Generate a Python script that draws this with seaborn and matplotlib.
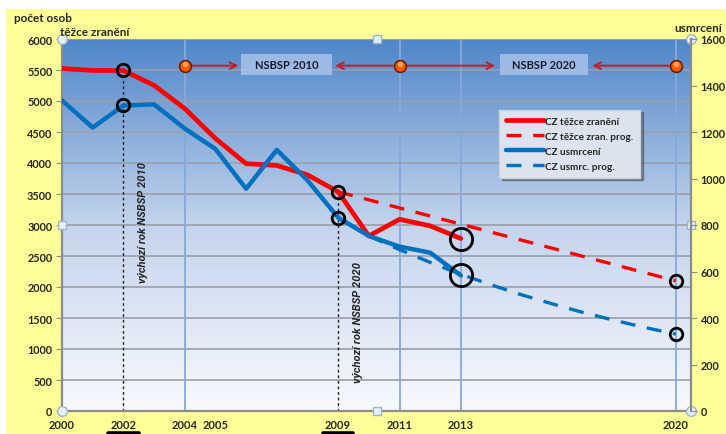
import matplotlib as mpl

mpl.use('Agg')
import numpy as np
import pandas as pd
import matplotlib.pyplot as plt
import matplotlib.transforms as mtransforms
from matplotlib.patches import Rectangle
from matplotlib.lines import Line2D
import seaborn as sns

sns.set_style('white')
plt.rcParams['font.family'] = ['Lato', 'DejaVu Sans']

#### data ####
years = list(range(2000, 2014))
injured = [5525, 5493, 5492, 5253, 4878, 4396, 3990, 3960, 3809, 3536,
           2823, 3092, 2986, 2782]
killed = [1336, 1219, 1314, 1319, 1215, 1127, 956, 1123, 992, 832,
          753, 707, 681, 583]
injured_prog_years = [2009, 2020]
injured_prog = [3536, 2100]
killed_prog_years = list(range(2010, 2021))
killed_prog = [753, 694, 639, 588, 542, 499, 460, 423, 390, 359, 331]

base_years = [2002, 2009]       # small circles + dashed verticals
check_year = 2013               # big circles
target_year = 2020
target_injured = 2100
target_killed = 331

label_years = [2000, 2002, 2004, 2005, 2009, 2011, 2013, 2020]
underlined_years = [2002, 2009]
vgrid_years = [2004, 2011, 2013, 2020]
milestone_years = [2004, 2011, 2020]
strategies = ['NSBSP 2010', 'NSBSP 2020']
########################

RED = '#FF0000'
BLUE = '#0070C0'
YELLOW = '#FFFF99'

df = pd.DataFrame({'rok': years, 'zraneni': injured, 'usmrceni': killed})
df_ip = pd.DataFrame({'rok': injured_prog_years, 'v': injured_prog})
df_kp = pd.DataFrame({'rok': killed_prog_years, 'v': killed_prog})

fig = plt.figure(figsize=(7.26, 4.35), dpi=100)
fig.patch.set_facecolor('white')
fig.patches.append(Rectangle((6 / 726, 0), 1, 1 - 10 / 435, transform=fig.transFigure,
                             facecolor=YELLOW, edgecolor='none', zorder=-10))

ax = fig.add_axes([62 / 726, 1 - 412 / 435, 629 / 726, 372 / 435])
ax2 = ax.twinx()
ax.set_xlim(2000, 2020.5)
ax.set_ylim(0, 6000)
ax2.set_ylim(0, 1600)

# gradient background
grad = np.linspace(0, 1, 256).reshape(-1, 1)
cmap = mpl.colors.LinearSegmentedColormap.from_list(
    'bg', ['#F8F9FE', '#C4D4EC', '#5086CA'])
ax.imshow(grad, cmap=cmap, origin='lower', aspect='auto',
          extent=[2000, 2020.5, 0, 6000], zorder=0)
ax.patch.set_visible(False)
ax2.patch.set_visible(False)

# grid
for yv in range(500, 6001, 500):
    ax.axhline(yv, color='#9A9FA8', lw=1.2, zorder=1)
for xv in vgrid_years:
    ax.axvline(xv, color='#86A9DA', lw=1.3, zorder=1)

# dashed vertical from base-year points
for yr in base_years:
    ax.plot([yr, yr], [0, injured[years.index(yr)]], color='#222222',
            lw=1.0, ls=(0, (2, 2)), zorder=2)

# series
sns.lineplot(data=df, x='rok', y='zraneni', ax=ax, color=RED, lw=3.4, zorder=4)
sns.lineplot(data=df_ip, x='rok', y='v', ax=ax, color=RED, lw=2.4, zorder=3)
ax.lines[-1].set_dashes((4.5, 3.5))
sns.lineplot(data=df, x='rok', y='usmrceni', ax=ax2, color=BLUE, lw=3.2, zorder=4)
sns.lineplot(data=df_kp, x='rok', y='v', ax=ax2, color=BLUE, lw=2.4, zorder=3)
ax2.lines[-1].set_dashes((4.5, 3.5))

# circles
circ = dict(ls='none', marker='o', mfc='none', mec='black', mew=2, zorder=6)
for yr in base_years:
    ax.plot(yr, injured[years.index(yr)], ms=9, **circ)
    ax2.plot(yr, killed[years.index(yr)], ms=9, **circ)
ax.plot(check_year, injured[years.index(check_year)], ms=16, **circ)
ax2.plot(check_year, killed[years.index(check_year)], ms=16, **circ)
ax.plot(target_year, target_injured, ms=9, **circ)
ax2.plot(target_year, target_killed, ms=9, **circ)

# milestones, arrows, strategy boxes
a_y = 5570 * 1600 / 6000
arrow_kw = dict(arrowstyle='->', color='#C0202A', lw=1.4,
                mutation_scale=12, shrinkA=5, shrinkB=0)
box_spans = [(2005.85, 2008.8), (2014.27, 2017.13)]
for (x0, x1), name in zip(box_spans, strategies):
    ax2.add_patch(Rectangle((x0, 1445), x1 - x0, 90, facecolor='#A7C2E8',
                            edgecolor='none', alpha=0.85, zorder=7))
    ax2.text((x0 + x1) / 2, 1490, name, ha='center', va='center',
             fontsize=8, fontweight='bold', color='#1A1A2E', zorder=8)
ax2.annotate('', xy=(box_spans[0][0] - 0.1, a_y), xytext=(milestone_years[0], a_y),
             arrowprops=arrow_kw, zorder=7)
ax2.annotate('', xy=(box_spans[0][1] + 0.1, a_y), xytext=(milestone_years[1], a_y),
             arrowprops=arrow_kw, zorder=7)
ax2.annotate('', xy=(box_spans[1][0] - 0.15, a_y), xytext=(milestone_years[1], a_y),
             arrowprops=arrow_kw, zorder=7)
ax2.annotate('', xy=(box_spans[1][1] + 0.15, a_y), xytext=(milestone_years[2], a_y),
             arrowprops=arrow_kw, zorder=7)
ax2.plot(milestone_years, [a_y] * len(milestone_years), ls='none', marker='o',
         ms=8.5, mfc='#FF5A00', mec='#6A2000', mew=1.2, zorder=9)
ax2.plot(milestone_years, [a_y + 8] * len(milestone_years), ls='none', marker='o',
         ms=4, mfc='#FFB060', mec='none', alpha=0.8, zorder=9)

# rotated notes
for yr, txt, yc in [(base_years[0], 'výchozí rok NSBSP 2010', 3050),
                    (base_years[1], 'výchozí rok NSBSP 2020', 1450)]:
    ax.text(yr + 0.65, yc, txt, rotation=90, ha='center', va='center',
            fontsize=8, style='italic', fontweight='bold', zorder=6,
            family=['Roboto', 'DejaVu Sans'], fontstretch='condensed')

# axes styling
for a in (ax, ax2):
    for s in a.spines.values():
        s.set_visible(False)
ax.spines['left'].set_visible(True)
ax.spines['bottom'].set_visible(True)
ax2.spines['right'].set_visible(True)
for s in (ax.spines['left'], ax.spines['bottom'], ax2.spines['right']):
    s.set_color('#8C8C8C')
    s.set_linewidth(1.6)

ax.set_yticks(range(0, 6001, 500))
ax2.set_yticks(range(0, 1601, 200))
ax.set_xticks(range(2000, 2021))
ax.set_xticklabels([str(y) if y in label_years else '' for y in range(2000, 2021)])
ax.tick_params(axis='y', direction='out', length=4, color='#8C8C8C',
               labelsize=7.8, pad=3)
ax.tick_params(axis='x', direction='out', length=4, color='#8C8C8C',
               labelsize=8, pad=2)
ax2.tick_params(axis='y', direction='out', length=4, color='#8C8C8C',
                labelsize=7.8, pad=3)
for lab in ax.get_xticklabels() + ax.get_yticklabels() + ax2.get_yticklabels():
    lab.set_fontweight('bold')
ax.set_xlabel('')
ax.set_ylabel('')
ax2.set_ylabel('')

# underline base years
blend = mtransforms.blended_transform_factory(ax.transData, ax.transAxes)
for yr in underlined_years:
    ax.plot([yr - 0.5, yr + 0.5], [-0.058, -0.058], color='black', lw=2.6,
            transform=blend, clip_on=False)

# excel-like selection handles
for (hx, hy) in [(0, 0), (0, 1), (1, 0), (1, 1)]:
    ax.plot(hx, hy, marker='o', ms=7, mfc='#E4F0FA', mec='#9FB6CC', mew=1,
            transform=ax.transAxes, clip_on=False, zorder=10)
for (hx, hy) in [(0, 0.5), (1, 0.5), (0.5, 0), (0.5, 1)]:
    ax.plot(hx, hy, marker='s', ms=5.5, mfc='#E4F0FA', mec='#9FB6CC', mew=1,
            transform=ax.transAxes, clip_on=False, zorder=10)

# legend
handles = [Line2D([], [], color=RED, lw=3.4),
           Line2D([], [], color=RED, lw=2.4, dashes=(4.5, 3.5)),
           Line2D([], [], color=BLUE, lw=3.2),
           Line2D([], [], color=BLUE, lw=2.4, dashes=(4.5, 3.5))]
labels = ['CZ těžce zranění', 'CZ těžce zran. prog.', 'CZ usmrcení', 'CZ usmrc. prog.']
leg = ax2.legend(handles, labels, loc='upper left', bbox_to_anchor=(0.695, 0.81),
                 frameon=True, fancybox=False, shadow=True, fontsize=7.2,
                 handlelength=3.8, handletextpad=0.1, labelspacing=0.6,
                 borderpad=0.7, borderaxespad=0)
leg.get_frame().set_facecolor('#DCE3EE')
leg.get_frame().set_edgecolor('#C8D0DC')
for t in leg.get_texts():
    t.set_fontweight('bold')
leg.set_zorder(20)

# axis titles
fig.text(14 / 726, 1 - 18 / 435, 'počet osob', fontsize=8.5, fontweight='bold',
         va='center', ha='left')
fig.text(60 / 726, 1 - 33 / 435, 'těžce zranění', fontsize=8.5, fontweight='bold',
         va='center', ha='left')
fig.text(722 / 726, 1 - 28 / 435, 'usmrcení', fontsize=8.5, fontweight='bold',
         va='center', ha='right')

plt.savefig('out.png', dpi=100)
